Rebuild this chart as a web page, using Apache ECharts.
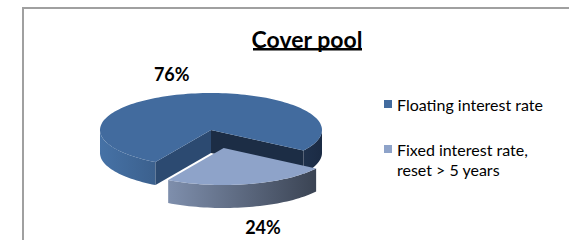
<!DOCTYPE html>
<html>
<head>
<meta charset="utf-8">
<script src="https://cdn.jsdelivr.net/npm/echarts@6/dist/echarts.min.js"></script>
<style>
  html, body { margin: 0; padding: 0; background: #fff; }
  #chart { width: 569px; height: 240px; }
</style>
</head>
<body>
<div id="chart"></div>
<script>
var categories = ['Floating interest rate', 'Fixed interest rate, reset > 5 years'];
var values = [76, 24];
var exploded = [false, true];

var topColors = ['#426b9e', '#8ea3c9'];
var sideColors = [['#4672a6', '#1b2b44'], ['#98abce', '#323a48']];
var wallColors = ['#2c4a71', '#1c2d45'];

// pie layout (3d look)
var CX = 211, CY = 130, RX = 111, RY = 37, DEPTH = 23;
var START = 120, EXPLODE = 0.5, LABEL_K = 1.55;

var chart = echarts.init(document.getElementById('chart'), null, { renderer: 'svg' });

function renderSlice(params, api) {
    var i = params.seriesIndex;
    var total = 0, before = 0;
    for (var k = 0; k < values.length; k++) {
        total += values[k];
        if (k < i) before += values[k];
    }
    var a1 = START + before / total * 360;
    var a2 = a1 + api.value(0) / total * 360;
    var mid = (a1 + a2) / 2 * Math.PI / 180;
    var cx = CX, cy = CY;
    if (exploded[i]) {
        cx += EXPLODE * RX * Math.cos(mid);
        cy += EXPLODE * RY * Math.sin(mid);
    }
    function pt(a, dy) {
        var r = a * Math.PI / 180;
        return [cx + RX * Math.cos(r), cy + RY * Math.sin(r) + (dy || 0)];
    }
    function arc(from, to, dy) {
        var pts = [];
        var n = Math.max(2, Math.ceil(Math.abs(to - from) / 2));
        for (var j = 0; j <= n; j++) pts.push(pt(from + (to - from) * j / n, dy));
        return pts;
    }
    var children = [];

    // outer side, front half only
    var grad = new echarts.graphic.LinearGradient(cx - RX, 0, cx + RX, 0, [
        { offset: 0, color: sideColors[i][0] },
        { offset: 1, color: sideColors[i][1] }
    ], true);
    for (var base = -360; base <= 720; base += 360) {
        var s = Math.max(a1, base), e = Math.min(a2, base + 180);
        if (e > s) {
            children.push({
                type: 'polygon',
                shape: { points: arc(s, e, 0).concat(arc(e, s, DEPTH)) },
                style: { fill: grad }
            });
        }
    }

    // cut walls facing the viewer
    var r1 = a1 * Math.PI / 180, r2 = a2 * Math.PI / 180;
    if (Math.cos(r1) < 0) {
        children.push({
            type: 'polygon',
            shape: { points: [[cx, cy], pt(a1), pt(a1, DEPTH), [cx, cy + DEPTH]] },
            style: { fill: wallColors[0] }
        });
    }
    if (Math.cos(r2) > 0) {
        children.push({
            type: 'polygon',
            shape: { points: [[cx, cy], pt(a2), pt(a2, DEPTH), [cx, cy + DEPTH]] },
            style: { fill: wallColors[1] }
        });
    }

    // top face
    children.push({
        type: 'polygon',
        shape: { points: [[cx, cy]].concat(arc(a1, a2, 0)) },
        style: { fill: topColors[i] }
    });

    // data label
    var lx = cx + LABEL_K * RX * Math.cos(mid);
    var ly = cy + LABEL_K * RY * Math.sin(mid) + (Math.sin(mid) > 0 ? DEPTH : 0);
    children.push({
        type: 'text',
        style: {
            text: Math.round(api.value(0) / total * 100) + '%',
            x: lx, y: ly,
            align: 'center', verticalAlign: 'middle',
            fill: '#000',
            fontFamily: 'Lato', fontWeight: 'bold', fontSize: 18
        }
    });

    return { type: 'group', children: children };
}

var option = {
    backgroundColor: '#fff',
    animation: false,
    title: {
        text: 'Cover pool',
        left: 307,
        top: 27,
        padding: 0,
        textAlign: 'center',
        textStyle: { fontFamily: 'Lato', fontWeight: 'bold', fontSize: 23, color: '#000' }
    },
    legend: {
        orient: 'vertical',
        left: 384,
        top: 94,
        padding: 0,
        itemWidth: 8,
        itemHeight: 8,
        itemGap: 5,
        icon: 'rect',
        selectedMode: false,
        data: categories,
        formatter: function (name) {
            var parts = name.split(', ');
            return parts.length > 1 ? '\n' + parts[0] + ',\n' + parts[1] : name;
        },
        textStyle: { fontFamily: 'Lato', fontSize: 16, color: '#000', lineHeight: 20 }
    },
    graphic: [{
        type: 'rect',
        shape: { x: 23, y: 8, width: 600, height: 300 },
        style: { fill: 'none', stroke: '#a0a0a0', lineWidth: 2 },
        silent: true
    }, {
        // title underline
        type: 'rect',
        shape: { x: 253, y: 48, width: 109, height: 2.5 },
        style: { fill: '#000' },
        silent: true
    }],
    series: categories.map(function (name, i) {
        return {
            name: name,
            type: 'custom',
            coordinateSystem: 'none',
            silent: true,
            itemStyle: { color: topColors[i] },
            renderItem: renderSlice,
            data: [[values[i]]]
        };
    })
};

chart.setOption(option);
</script>
</body>
</html>
